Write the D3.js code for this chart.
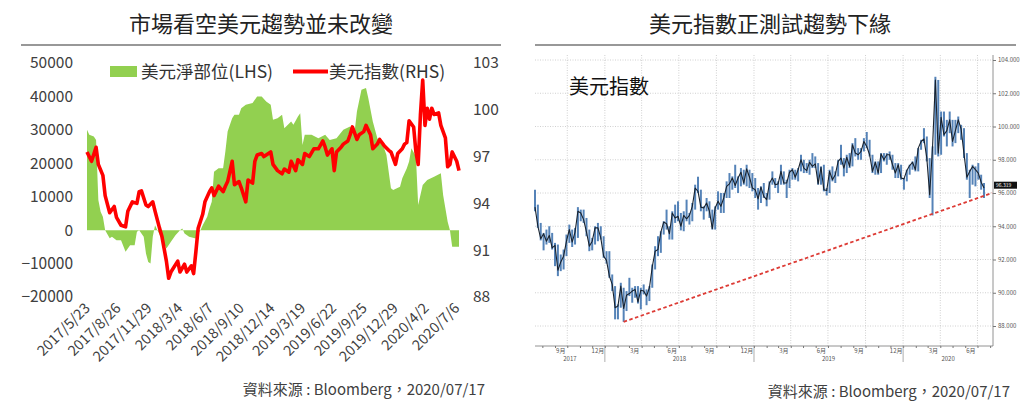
<!DOCTYPE html>
<html>
<head>
<meta charset="utf-8">
<script src="https://cdn.jsdelivr.net/npm/d3@7"></script>
<style>
body { margin: 0; background: #fff; }
svg text { font-family: "Noto Sans CJK TC", "Noto Sans", sans-serif; }
</style>
</head>
<body>
<svg id="drawing_region"></svg>
<script>
// ---- left chart data (weekly, week number counted from 2017/5/23) ----
const cotStartDate = "2017-05-23";
const netWeek = [0,1,3,4,5,6,7,8,10,11,13,15,17,19,21,22,23,25,26,27,28,29,30,31,33,35,37,39,41,42,43,45,48,49,50,51,53,54,55,56,58,60,61,62,64,65,67,68,70,73,75,77,79,81,82,84,86,87,90,91,93,94,95,96,99,102,105,107,110,113,116,118,119,121,123,124,126,128,131,132,134,135,138,139,141,142,143,145,146,148,150,153,156,157,159,160,161,164];
const netPosition = [30000,28500,28000,27000,9000,5500,4000,0,-2400,-2000,-3000,-3000,-6500,-4500,-4500,-500,0,-2000,-7000,-9500,-10000,-2000,1500,0,-2500,-5500,-3500,-1500,0,500,-1000,-2000,-2500,-1000,0,1500,4000,6500,8500,17500,18500,18500,23500,29500,33500,34500,34500,36500,37500,38000,40000,40000,38500,37500,33000,33500,34500,30500,32500,31500,34000,35000,25500,28500,28500,27500,28500,27000,27500,30000,31000,29500,35500,42000,42500,39500,32500,27500,24500,22500,12500,12000,13000,15500,18500,20500,24500,22000,7500,13500,15000,16000,17000,10500,2500,0,-5000,-5000];
const idxWeek = [0,2,4,5,7,8,10,12,13,15,17,18,20,22,23,24,26,27,29,30,32,33,35,36,37,40,41,43,44,46,47,48,49,51,52,54,55,56,58,60,61,62,64,65,67,68,70,71,73,74,75,77,78,81,82,84,86,87,89,90,92,93,95,96,98,100,102,104,105,106,108,109,110,112,113,115,116,117,119,120,122,123,125,126,128,129,131,133,134,136,137,139,140,141,142,144,145,146,147,148,149,150,151,152,153,155,156,158,159,160,161,163,164];
const idxValue = [97.3,96.7,97.6,96.5,95.8,94.5,93.4,93.8,93.1,92.6,92.5,93.5,94.1,94.0,94.75,94.8,93.9,93.8,94.1,93.5,92.4,91.9,90.3,89.2,89.6,90.3,89.6,90.1,89.6,90.0,89.5,90.9,92.4,93.3,94.1,94.75,95.0,94.5,95.1,94.75,95.1,95.4,96.7,95.2,95.4,95.0,94.1,95.5,95.3,96.7,97.1,97.2,97.0,97.3,96.5,96.1,95.9,96.2,96.0,96.7,96.1,96.8,96.5,97.2,97.0,97.5,97.5,98.0,97.6,97.1,97.5,96.1,97.3,97.6,97.8,98.0,98.4,98.9,98.1,98.4,98.6,99.0,98.4,97.5,97.8,98.1,97.7,97.4,97.3,96.5,97.2,97.5,97.8,97.9,99.3,98.9,97.3,96.5,99.7,101.9,99.0,100.1,99.4,100.1,99.7,99.8,99.0,98.2,96.35,96.5,97.3,96.7,96.1];
const leftTicks = [-20000,-10000,0,10000,20000,30000,40000,50000];
const rightTicks = [88,91,94,97,100,103];
const dateLabels = ["2017-05-23","2017-08-26","2017-11-29","2018-03-04","2018-06-07","2018-09-10","2018-12-14","2019-03-19","2019-06-22","2019-09-25","2019-12-29","2020-04-02","2020-07-06"];

// ---- right chart data (weekly bars from 2017/7/14) ----
const barStartDate = "2017-07-14";
const dxyClose = [95.15,94.0,93.25,93.55,93.1,93.45,92.7,92.85,91.35,91.85,92.2,93.1,93.8,93.05,93.65,94.9,94.8,94.4,93.65,92.8,93.1,93.9,93.9,93.3,92.2,
  91.95,91.0,90.5,89.1,89.2,90.4,89.05,89.85,89.95,90.1,90.2,89.45,90.15,90.1,89.8,90.3,91.55,92.5,92.6,93.65,94.25,94.15,93.55,94.8,94.5,94.6,94.0,94.65,94.45,94.65,95.2,96.3,96.1,95.15,95.1,95.4,94.9,93.85,95.1,95.5,95.2,95.7,96.4,96.55,96.9,96.45,96.9,97.25,96.6,97.45,96.95,96.3,
  96.2,95.65,96.35,95.8,95.6,96.6,96.9,96.5,96.55,97.3,96.6,96.6,97.25,97.4,96.95,97.4,98.0,97.5,97.35,97.85,97.6,97.75,96.55,97.55,96.2,96.15,97.3,96.8,97.1,97.9,98.1,97.5,98.15,97.6,98.9,98.4,98.3,98.5,99.1,98.8,98.3,97.3,97.85,97.2,98.35,98.0,98.3,98.3,97.7,97.2,97.7,96.9,
  96.85,97.35,97.65,97.85,97.4,98.7,99.1,99.25,98.1,95.9,98.75,102.8,98.4,100.55,99.5,99.75,100.4,99.1,99.75,100.4,99.85,98.35,96.95,97.3,97.6,97.4,97.2,96.65,96.3];
const dxyLow = [94.9,93.9,93.15,92.55,92.9,93.0,92.6,91.6,91.0,91.3,91.4,92.2,93.0,92.75,92.9,93.3,94.3,94.2,93.4,92.5,92.55,92.9,93.1,93.2,92.1,
  91.75,90.9,90.1,88.4,88.4,89.1,88.25,88.9,89.8,89.4,89.7,89.35,89.0,89.9,89.25,89.5,90.3,91.4,92.2,92.4,93.5,93.8,93.2,93.2,94.2,94.3,93.75,93.7,94.3,94.1,94.3,95.0,96.0,94.9,94.4,94.9,94.5,93.8,93.8,95.0,94.8,94.8,95.7,95.7,96.2,96.3,96.0,96.4,96.5,96.4,96.3,96.1,
  95.7,95.0,95.4,95.7,95.2,95.6,96.5,96.3,96.0,96.5,96.5,95.7,96.3,96.8,96.8,96.7,97.3,97.2,97.2,97.1,97.5,97.5,96.5,96.5,96.1,95.85,96.0,96.7,96.6,97.0,97.7,97.0,97.2,97.5,97.6,98.2,98.0,98.0,98.5,98.7,98.2,97.2,97.1,97.1,97.2,97.9,97.7,98.0,97.4,96.9,96.9,96.8,
  96.2,96.7,97.1,97.4,97.3,97.3,98.6,99.0,97.9,95.7,94.65,98.3,98.2,98.3,99.4,98.8,99.6,98.8,99.0,99.6,99.2,98.1,96.8,95.7,96.5,96.4,96.8,96.2,95.7];
const dxyHigh = [96.2,95.3,94.2,93.6,93.8,94.0,93.6,93.0,92.9,92.3,92.6,93.5,94.1,93.8,93.9,95.15,95.0,95.0,94.5,93.8,93.3,94.0,94.2,94.0,93.4,
  92.5,92.5,91.1,90.4,89.3,90.6,90.3,90.1,90.9,90.3,90.4,90.4,90.3,90.5,90.2,90.4,91.7,92.8,93.4,93.7,94.3,95.0,94.0,94.9,95.3,95.5,94.8,94.9,95.6,94.8,95.4,96.5,96.98,96.2,95.2,95.7,95.5,95.0,95.2,96.1,96.0,96.0,96.7,97.2,97.0,97.7,97.0,97.5,97.4,97.7,97.4,97.2,
  96.9,96.3,96.4,96.6,96.0,96.7,97.3,96.9,96.7,97.7,97.3,96.8,97.4,97.5,97.4,97.5,98.3,98.0,97.8,98.0,98.4,98.2,97.8,97.6,97.7,96.3,97.4,97.6,97.3,98.0,98.9,98.1,98.3,98.4,99.0,99.3,98.7,98.7,99.3,99.67,99.2,98.3,97.9,97.9,98.4,98.4,98.4,98.5,98.3,97.8,97.8,97.7,
  96.9,97.4,97.7,97.9,98.2,98.7,99.2,99.9,99.4,98.1,98.8,102.99,102.8,100.9,100.9,100.4,100.9,100.4,100.4,100.6,100.1,99.9,98.4,97.4,97.7,97.6,97.8,97.1,96.6];
const priceTicks = [88,90,92,94,96,98,100,102,104];
const labelMonths = [9,12,3,6];
const trendStart = ["2018-02-16", 88.25];
const trendEnd = ["2020-08-06", 96.0];
const lastValue = 96.319;

const parse = d3.timeParse("%Y-%m-%d");
const grey = "#404040";

const svg = d3.select("#drawing_region")
    .attr("width", 1024)
    .attr("height", 402);

// ================= left chart =================
{
    const g = svg.append("g");
    const start = parse(cotStartDate);
    const toDate = w => d3.timeDay.offset(start, 7 * w);

    const xscale = d3.scaleTime().domain([start, toDate(164)]).range([87, 459]);
    const lscale = d3.scaleLinear().domain([-20000, 50000]).range([297, 63]);
    const rscale = d3.scaleLinear().domain([88, 103]).range([297, 63]);

    g.append("text")
        .attr("x", 261).attr("y", 32)
        .attr("text-anchor", "middle")
        .style("font-size", "22px")
        .attr("fill", "#222")
        .text("市場看空美元趨勢並未改變");
    g.append("line")
        .attr("x1", 21).attr("x2", 501).attr("y1", 45).attr("y2", 45)
        .attr("stroke", "#333").attr("stroke-width", 1.2);

    const net = netWeek.map((w, i) => ({ date: toDate(w), v: netPosition[i] }));
    const idx = idxWeek.map((w, i) => ({ date: toDate(w), v: idxValue[i] }));

    g.append("path")
        .datum(net)
        .attr("fill", "#92d050")
        .attr("d", d3.area()
            .x(d => xscale(d.date))
            .y0(lscale(0))
            .y1(d => lscale(d.v)));

    g.append("path")
        .datum(idx)
        .attr("fill", "none")
        .attr("stroke", "#ff0000")
        .attr("stroke-width", 3.6)
        .attr("stroke-linejoin", "round")
        .attr("d", d3.line()
            .x(d => xscale(d.date))
            .y(d => rscale(d.v)));

    const laxis = g.append("g")
        .attr("transform", "translate(75,0)")
        .call(d3.axisLeft(lscale).tickValues(leftTicks).tickSize(0).tickPadding(2).tickFormat(d3.format("d")));
    const raxis = g.append("g")
        .attr("transform", "translate(471,0)")
        .call(d3.axisRight(rscale).tickValues(rightTicks).tickSize(0).tickPadding(2));
    [laxis, raxis].forEach(a => {
        a.select(".domain").remove();
        a.selectAll("text")
            .style("font-size", "15.5px")
            .attr("fill", grey)
            .style("font-family", '"Noto Sans CJK TC", sans-serif');
    });

    g.selectAll(".xlabel")
        .data(dateLabels.map(parse))
        .join("text")
        .attr("class", "xlabel")
        .attr("text-anchor", "end")
        .attr("transform", d => `translate(${xscale(d) + 4}, 309) rotate(-45)`)
        .style("font-size", "14.5px")
        .attr("fill", grey)
        .text(d => `${d.getFullYear()}/${d.getMonth() + 1}/${d.getDate()}`);

    // legend
    g.append("rect")
        .attr("x", 110).attr("y", 66).attr("width", 27).attr("height", 11)
        .attr("fill", "#92d050");
    g.append("text")
        .attr("x", 141).attr("y", 78)
        .style("font-size", "17.5px").attr("fill", "#333")
        .text("美元淨部位(LHS)");
    g.append("line")
        .attr("x1", 293).attr("x2", 328).attr("y1", 71.5).attr("y2", 71.5)
        .attr("stroke", "#ff0000").attr("stroke-width", 4);
    g.append("text")
        .attr("x", 329).attr("y", 78)
        .style("font-size", "17.5px").attr("fill", "#333")
        .text("美元指數(RHS)");

    g.append("text")
        .attr("x", 485).attr("y", 395)
        .attr("text-anchor", "end")
        .style("font-size", "15px").attr("fill", grey)
        .text("資料來源 : Bloomberg，2020/07/17");
}

// ================= right chart =================
{
    const g = svg.append("g");
    const start = parse(barStartDate);
    const toDate = i => d3.timeDay.offset(start, 7 * i);
    const left = 535, right = 993, top = 55, bottom = 346;

    const xscale = d3.scaleTime().domain([start, parse("2020-08-08")]).range([left, right]);
    const yscale = d3.scaleLinear().domain([88, 104]).range([326, 60]);

    g.append("text")
        .attr("x", 770).attr("y", 32)
        .attr("text-anchor", "middle")
        .style("font-size", "22px")
        .attr("fill", "#222")
        .text("美元指數正測試趨勢下緣");
    g.append("line")
        .attr("x1", 535).attr("x2", 1016).attr("y1", 45).attr("y2", 45)
        .attr("stroke", "#333").attr("stroke-width", 1.2);

    // grid
    g.selectAll(".hgrid")
        .data(priceTicks)
        .join("line")
        .attr("x1", left).attr("x2", right)
        .attr("y1", d => yscale(d)).attr("y2", d => yscale(d))
        .attr("stroke", "#c4c4c4").attr("stroke-width", 0.8)
        .attr("stroke-dasharray", "1,1.5");
    const quarters = d3.timeMonth.every(3).range(d3.timeDay.offset(start, 1), xscale.domain()[1]);
    g.selectAll(".vgrid")
        .data(quarters)
        .join("line")
        .attr("x1", d => xscale(d)).attr("x2", d => xscale(d))
        .attr("y1", top).attr("y2", bottom)
        .attr("stroke", "#c4c4c4").attr("stroke-width", 0.8)
        .attr("stroke-dasharray", "1,1.5");

    // weekly bars
    const bars = dxyClose.map((c, i) => ({ date: toDate(i), c: c, lo: dxyLow[i], hi: dxyHigh[i] }));
    g.selectAll(".bar")
        .data(bars)
        .join("line")
        .attr("x1", d => xscale(d.date)).attr("x2", d => xscale(d.date))
        .attr("y1", d => yscale(d.lo)).attr("y2", d => yscale(d.hi))
        .attr("stroke", "#5583b8").attr("stroke-width", 2);
    g.append("path")
        .datum(bars)
        .attr("fill", "none")
        .attr("stroke", "#18222e")
        .attr("stroke-width", 1.1)
        .attr("stroke-linejoin", "round")
        .attr("d", d3.line().x(d => xscale(d.date)).y(d => yscale(d.c)));

    // trend line
    g.append("line")
        .attr("x1", xscale(parse(trendStart[0]))).attr("y1", yscale(trendStart[1]))
        .attr("x2", xscale(parse(trendEnd[0]))).attr("y2", yscale(trendEnd[1]))
        .attr("stroke", "#dd3b35").attr("stroke-width", 1.8)
        .attr("stroke-dasharray", "3.5,2.5");

    // axes
    g.append("line")
        .attr("x1", right).attr("x2", right).attr("y1", top).attr("y2", bottom)
        .attr("stroke", "#777").attr("stroke-width", 0.8);
    g.append("line")
        .attr("x1", left).attr("x2", right).attr("y1", bottom).attr("y2", bottom)
        .attr("stroke", "#777").attr("stroke-width", 0.8);

    const yaxis = g.append("g")
        .attr("transform", `translate(${right},0)`)
        .call(d3.axisRight(yscale).tickValues(priceTicks).tickSize(3).tickPadding(2).tickFormat(d3.format(".3f")));
    yaxis.select(".domain").remove();
    yaxis.selectAll("line").attr("stroke", "#777");
    yaxis.selectAll("text").style("font-size", "6px").attr("fill", "#555");

    const xaxis = g.append("g")
        .attr("transform", `translate(0,${bottom})`)
        .call(d3.axisBottom(xscale).ticks(d3.timeMonth.every(1)).tickSize(2).tickFormat(""));
    xaxis.select(".domain").remove();
    xaxis.selectAll("line").attr("stroke", "#777");

    const months = d3.timeMonth.range(d3.timeDay.offset(start, -20), xscale.domain()[1])
        .filter(d => labelMonths.includes(d.getMonth() + 1));
    g.selectAll(".mlabel")
        .data(months)
        .join("text")
        .attr("x", d => xscale(d3.timeDay.offset(d, 14)))
        .attr("y", 353)
        .attr("text-anchor", "middle")
        .style("font-size", "6px").attr("fill", "#555")
        .text(d => `${d.getMonth() + 1}月`);

    const years = [2017, 2018, 2019, 2020];
    g.selectAll(".ylabel")
        .data(years)
        .join("text")
        .attr("x", y => {
            const a = Math.max(xscale(new Date(y, 0, 1)), left);
            const b = Math.min(xscale(new Date(y + 1, 0, 1)), right);
            return (a + b) / 2;
        })
        .attr("y", 361)
        .attr("text-anchor", "middle")
        .style("font-size", "6px").attr("fill", "#555")
        .text(y => y);
    g.selectAll(".ysep")
        .data(years.slice(1))
        .join("line")
        .attr("x1", y => xscale(new Date(y, 0, 1))).attr("x2", y => xscale(new Date(y, 0, 1)))
        .attr("y1", bottom).attr("y2", 362)
        .attr("stroke", "#999").attr("stroke-width", 0.8);

    // last value tag, sits just above the 96.000 tick label
    g.append("rect")
        .attr("x", right + 1).attr("y", yscale(lastValue) - 6)
        .attr("width", 23).attr("height", 7)
        .attr("fill", "#111");
    g.append("text")
        .attr("x", right + 3).attr("y", yscale(lastValue) - 0.4)
        .style("font-size", "5px").attr("fill", "#fff")
        .text(d3.format(".3f")(lastValue));

    g.append("text")
        .attr("x", 569).attr("y", 94)
        .style("font-size", "20px").attr("fill", "#111")
        .text("美元指數");

    g.append("text")
        .attr("x", 1010).attr("y", 397)
        .attr("text-anchor", "end")
        .style("font-size", "15px").attr("fill", grey)
        .text("資料來源 : Bloomberg，2020/07/17");
}
</script>
</body>
</html>
